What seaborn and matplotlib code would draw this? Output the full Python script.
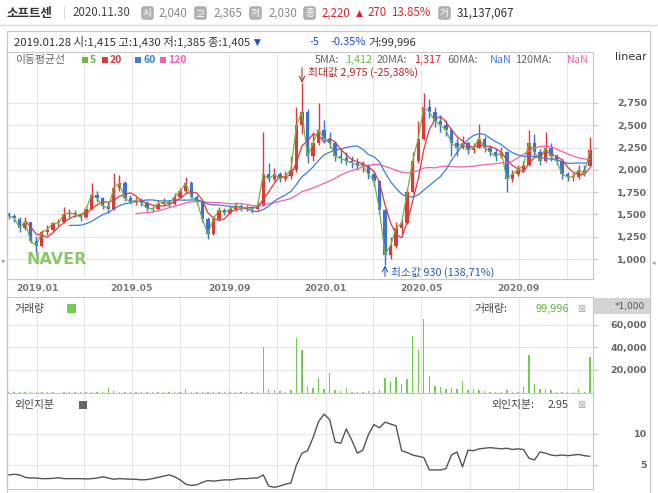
import numpy as np
import pandas as pd
import matplotlib
matplotlib.use('Agg')
import matplotlib.pyplot as plt
import matplotlib.dates as mdates
from matplotlib.patches import Rectangle
from matplotlib.lines import Line2D
import seaborn as sns

sns.set_style('white')
plt.rcParams['font.family'] = ['Noto Sans CJK KR', 'DejaVu Sans']
plt.rcParams['axes.unicode_minus'] = False

W, H = 658, 493

# weekly candles, 2018-11-26 .. 2020-11-30
open_ = [1500, 1480, 1450, 1350, 1410, 1200, 1150, 1300, 1330, 1400,
         1410, 1500, 1520, 1500, 1470, 1560, 1720, 1680, 1600, 1560,
         1800, 1850, 1680, 1640, 1660, 1630, 1570, 1560, 1620, 1640,
         1620, 1700, 1760, 1850, 1700, 1650, 1450, 1280, 1450, 1550,
         1520, 1560, 1600, 1570, 1580, 1560, 1600, 1950, 1900, 1950,
         1900, 1930, 2000, 2500, 2650, 2150, 2300, 2450, 2350, 2300,
         2150, 2130, 2100, 2080, 2050, 2050, 1950, 1880, 1550, 1050,
         1150, 1350, 1400, 1750, 2100, 2350, 2700, 2650, 2550, 2500,
         2450, 2300, 2250, 2300, 2220, 2250, 2350, 2250, 2200, 2150,
         2200, 1900, 1950, 2000, 2050, 2300, 2200, 2100, 2250, 2150,
         2100, 1950, 1920, 1920, 2000, 2040]
high = [1530, 1510, 1470, 1470, 1420, 1260, 1330, 1380, 1420, 1450,
        1580, 1560, 1550, 1520, 1600, 1850, 1760, 1700, 1640, 1960,
        1940, 1870, 1720, 1700, 1680, 1650, 1600, 1660, 1680, 1660,
        1740, 1800, 1920, 1870, 1720, 1660, 1470, 1480, 1580, 1570,
        1600, 1640, 1620, 1610, 1600, 1650, 2420, 2080, 2020, 1980,
        1990, 2150, 2700, 2975, 2680, 2420, 2750, 2560, 2420, 2320,
        2250, 2200, 2150, 2130, 2100, 2070, 1990, 1890, 1560, 1250,
        1420, 1450, 1800, 2200, 2550, 2860, 2800, 2700, 2620, 2560,
        2470, 2360, 2380, 2320, 2300, 2520, 2380, 2280, 2230, 2260,
        2210, 2000, 2060, 2100, 2450, 2400, 2230, 2420, 2300, 2180,
        2120, 1980, 1960, 2060, 2050, 2365]
low = [1450, 1420, 1300, 1330, 1180, 1050, 1140, 1270, 1310, 1370,
       1400, 1470, 1470, 1430, 1460, 1550, 1640, 1560, 1520, 1550,
       1760, 1650, 1620, 1610, 1590, 1540, 1530, 1550, 1600, 1580,
       1610, 1690, 1740, 1680, 1620, 1420, 1230, 1270, 1440, 1490,
       1500, 1540, 1540, 1540, 1520, 1550, 1590, 1860, 1880, 1860,
       1870, 1900, 1980, 2400, 2080, 2100, 2280, 2300, 2250, 2100,
       2080, 2050, 2020, 2000, 1980, 1900, 1820, 1500, 930, 1000,
       1120, 1280, 1390, 1740, 2080, 2330, 2580, 2480, 2430, 2380,
       2150, 2160, 2230, 2180, 2190, 2240, 2200, 2150, 2100, 2130,
       1750, 1860, 1930, 1980, 2040, 2150, 2050, 2090, 2100, 2050,
       1900, 1880, 1880, 1900, 1930, 2030]
close = [1480, 1460, 1350, 1420, 1200, 1150, 1300, 1330, 1400, 1405,
         1500, 1520, 1500, 1470, 1560, 1720, 1680, 1600, 1560, 1800,
         1850, 1680, 1640, 1660, 1630, 1570, 1560, 1620, 1640, 1620,
         1700, 1760, 1850, 1700, 1650, 1450, 1280, 1450, 1550, 1520,
         1560, 1600, 1570, 1580, 1560, 1600, 1950, 1900, 1950, 1900,
         1930, 2000, 2500, 2650, 2150, 2300, 2450, 2350, 2300, 2150,
         2130, 2100, 2080, 2050, 2050, 1950, 1880, 1550, 1050, 1150,
         1350, 1400, 1750, 2100, 2350, 2700, 2650, 2550, 2500, 2450,
         2300, 2250, 2300, 2220, 2250, 2350, 2250, 2200, 2150, 2200,
         1900, 1950, 2000, 2050, 2300, 2200, 2100, 2250, 2150, 2100,
         1950, 1920, 1920, 2000, 1950, 2220]
# volume, *1,000 shares
vol_k = [600, 700, 900, 800, 1000, 900, 700, 600, 500, 100,
         800, 700, 600, 500, 700, 900, 700, 600, 4500, 1200,
         900, 600, 500, 500, 400, 500, 500, 600, 700, 800,
         900, 700, 3500, 900, 800, 700, 600, 500, 400, 500,
         500, 400, 500, 400, 500, 600, 40000, 3000, 2000, 1500,
         1000, 2500, 48000, 38000, 6000, 4000, 13000, 3000, 17000, 2000,
         1500, 4000, 1000, 1000, 800, 1200, 1000, 2000, 13000, 9000,
         14000, 8000, 12000, 50000, 38000, 65000, 15000, 6000, 5000, 3000,
         4000, 3000, 10000, 2000, 3000, 2000, 1500, 1000, 1000, 800,
         2000, 1000, 800, 5000, 33000, 8000, 3000, 3000, 2000, 1000,
         800, 700, 800, 3000, 1000, 31000]
# foreign ownership, %
frgn = [3.4, 3.5, 3.4, 3.0, 2.9, 2.9, 2.8, 2.8, 2.85, 2.95,
        2.8, 2.8, 2.8, 2.8, 2.75, 2.8, 2.9, 3.1, 2.9, 2.7,
        2.8, 2.75, 2.7, 2.7, 2.6, 2.65, 2.8, 3.0, 3.2, 3.4,
        3.1, 2.6, 1.9, 1.7, 1.8, 2.2, 2.5, 2.4, 2.5, 2.6,
        2.6, 2.7, 2.8, 2.8, 2.9, 2.9, 3.4, 1.6, 1.4, 1.6,
        1.9, 2.1, 5.0, 6.9, 7.3, 9.4, 12.0, 13.2, 12.3, 8.7,
        8.5, 10.8, 9.0, 6.9, 7.4, 9.9, 11.5, 11.0, 11.9, 11.6,
        11.3, 7.3, 7.0, 6.6, 6.4, 6.2, 4.2, 4.2, 4.2, 4.4,
        6.6, 7.1, 4.7, 7.4, 7.3, 7.6, 7.7, 7.8, 7.7, 7.6,
        7.7, 7.5, 7.6, 7.5, 6.1, 5.8, 7.1, 6.9, 6.6, 6.5,
        6.6, 6.5, 6.6, 6.7, 6.5, 6.4]

price_ticks = [1000, 1250, 1500, 1750, 2000, 2250, 2500, 2750]
vol_ticks = [20000, 40000, 60000]
frgn_ticks = [5, 10]

UP, DOWN = '#e2373a', '#3a70d8'
MA_COLORS = {'5': '#72b545', '20': '#e0393c', '60': '#3b7fdc', '120': '#f062b2'}
MA_WIN = {'5': 1, '20': 4, '60': 12, '120': 24}   # weeks
GRID, SPINE = '#e6e6e6', '#c8c8c8'

dates = pd.date_range('2018-11-26', periods=len(close), freq='7D')
df = pd.DataFrame({'x': mdates.date2num(dates), 'open': open_, 'high': high,
                   'low': low, 'close': close, 'vol': vol_k, 'frgn': frgn})
for k, w in MA_WIN.items():
    df['ma' + k] = df['close'].rolling(w).mean()

xlim = mdates.date2num([pd.Timestamp('2018-11-24'), pd.Timestamp('2020-12-04')])
grid_dates = pd.date_range('2019-01-01', '2020-11-01', freq='2MS')
grid_x = mdates.date2num(grid_dates)
grid_lbl = [d.strftime('%Y.%m') if d.month in (1, 5, 9) else '' for d in grid_dates]


def px(x0, y0, x1, y1):
    return [x0 / W, 1 - y1 / H, (x1 - x0) / W, (y1 - y0) / H]


def ftext(x, y, s, **kw):
    kw.setdefault('va', 'center')
    kw.setdefault('fontsize', 8)
    fig.text(x / W, 1 - y / H, s, **kw)


def frect(x0, y0, x1, y1, **kw):
    fig.add_artist(Rectangle((x0 / W, 1 - y1 / H), (x1 - x0) / W, (y1 - y0) / H,
                             transform=fig.transFigure, **kw))


def style_axis(ax, ticks, labels, ylim):
    ax.set_xlim(*xlim)
    ax.set_ylim(*ylim)
    ax.set_xlabel('')
    ax.set_ylabel('')
    ax.yaxis.tick_right()
    ax.set_yticks(ticks, labels=labels, fontsize=6.8, fontweight='bold', color='#666',
                  ha='right', family='DejaVu Sans')
    ax.tick_params(axis='y', length=3.6, width=0.8, color=SPINE, pad=35.3)
    ax.set_xticks(grid_x)
    ax.grid(True, color=GRID, lw=0.8)
    ax.set_axisbelow(True)
    for s in ax.spines.values():
        s.set_color(SPINE)
        s.set_linewidth(0.8)


fig = plt.figure(figsize=(W / 100, H / 100), dpi=100)
fig.patch.set_facecolor('white')

# ---- price panel
ax_p = fig.add_axes(px(7, 52, 593, 279))
up = df['close'] >= df['open']
cols = np.where(up, UP, DOWN)
ax_p.vlines(df['x'], df['low'], df['high'], colors=cols, lw=1.0, zorder=2)
body = np.maximum((df['close'] - df['open']).abs(), 12)
ax_p.bar(df['x'], body, bottom=np.minimum(df['open'], df['close']), width=4.3,
         color=cols, lw=0, zorder=2)
for k in ['120', '60', '20', '5']:
    sns.lineplot(data=df, x='x', y='ma' + k, ax=ax_p, color=MA_COLORS[k], lw=0.9,
                 legend=False, zorder=3)
style_axis(ax_p, price_ticks, [f'{v:,}' for v in price_ticks], (776, 3322))
ax_p.set_xticklabels(grid_lbl, fontsize=6.7, fontweight='bold', color='#777',
                     family='DejaVu Sans')
ax_p.tick_params(axis='x', length=0, pad=3.6)

i_max = int(np.argmax(high))
i_min = int(np.argmin(low))
ax_p.annotate('', xy=(df['x'][i_max], high[i_max]), xytext=(0, 11), textcoords='offset points',
              arrowprops=dict(arrowstyle='->', color='#c0302b', lw=0.8, shrinkA=0, shrinkB=0))
ax_p.annotate(f'최대값 {high[i_max]:,} (-25,38%)', xy=(df['x'][i_max], high[i_max]),
              xytext=(4.5, 7.2), textcoords='offset points', va='center', fontsize=7.8,
              color='#b3261e')
ax_p.annotate('', xy=(df['x'][i_min], low[i_min]), xytext=(0, -8), textcoords='offset points',
              arrowprops=dict(arrowstyle='->', color='#2a5db0', lw=0.8, shrinkA=0, shrinkB=0))
ax_p.annotate(f'최소값 {low[i_min]:,} (138,71%)', xy=(df['x'][i_min], low[i_min]),
              xytext=(4.5, -5), textcoords='offset points', va='center', fontsize=7.8,
              color='#2a5db0')

# ---- volume panel
ax_v = fig.add_axes(px(7, 297, 593, 393))
ax_v.bar(df['x'], df['vol'], width=1.8, color='#72cc52', lw=0)
style_axis(ax_v, vol_ticks, [f'{v:,}' for v in vol_ticks], (-300, 84300))
ax_v.tick_params(axis='x', length=0, labelbottom=False)

# ---- foreign ownership panel
ax_f = fig.add_axes(px(7, 393, 593, 489))
sns.lineplot(data=df, x='x', y='frgn', ax=ax_f, color='#555555', lw=1.0, legend=False)
style_axis(ax_f, frgn_ticks, [str(v) for v in frgn_ticks], (1.13, 16.6))
ax_f.tick_params(axis='x', length=0, labelbottom=False)

# ---- frame
frect(7, 31, 650, 496, fill=False, ec=SPINE, lw=0.9)
fig.add_artist(Line2D([0, 1], [1 - 25 / H] * 2, color='#d8d8d8', lw=1, transform=fig.transFigure))
frect(594, 298, 650, 314, fc='#d4d4d4', ec='none')
ftext(645, 306, '*1,000', ha='right', fontsize=6.5, color='#555', family='DejaVu Sans')
ftext(2, 261, '▸', fontsize=5, color='#999', family='DejaVu Sans')
ftext(652, 263, '◂', fontsize=5, color='#999', family='DejaVu Sans')

# ---- header
ftext(6, 13, '소프트센', fontsize=9, fontweight='bold', color='#333')
ftext(63, 13, '|', fontsize=8, color='#cccccc')
ftext(73, 13, '2020.11.30', fontsize=8.3, color='#444')
icon = dict(boxstyle='round,pad=0.12,rounding_size=0.2', fc='#b4b4b4', ec='#9a9a9a', lw=0.6)
for xx, ch in [(143, '시'), (196, '고'), (251, '저'), (305, '종'), (440, '거')]:
    ftext(xx, 13, ch, fontsize=7, color='white', bbox=icon)
for xx, s in [(159, '2,040'), (214, '2,365'), (269, '2,030')]:
    ftext(xx, 13, s, fontsize=8.3, color='#8a8a8a')
ftext(322, 13, '2,220', fontsize=8.3, color='#d8282c')
ftext(356, 13, '▲', fontsize=6.5, color='#d8282c', family='DejaVu Sans')
ftext(368, 13, '270', fontsize=8.3, color='#d8282c')
ftext(391, 13, '13.85%', fontsize=8.3, color='#d8282c')
ftext(457, 13, '31,137,067', fontsize=8.3, color='#333')

# ---- info row
ftext(14, 42, '2019.01.28 시:1,415 고:1,430 저:1,385 종:1,405', fontsize=8.2, color='#333')
ftext(254, 42, '▼', fontsize=6.5, color='#1f4fd1', family='DejaVu Sans')
ftext(309, 42, '-5', fontsize=8, color='#1f4fd1')
ftext(330, 42, '-0.35%', fontsize=8, color='#1f4fd1')
ftext(368, 42, '거:99,996', fontsize=8, color='#333')

# ---- MA legend row
ftext(15, 60, '이동평균선', fontsize=7.8, color='#666')
for xx, k in [(82, '5'), (102, '20'), (135, '60'), (160, '120')]:
    frect(xx, 57, xx + 6, 63, fc=MA_COLORS[k], ec='none')
    ftext(xx + 8, 60, k, fontsize=7.5, fontweight='bold', color=MA_COLORS[k])
for xx, s, c in [(315, '5MA:', '#666'), (345, '1,412', MA_COLORS['5']),
                 (377, '20MA:', '#666'), (414, '1,317', '#c8282c'),
                 (447, '60MA:', '#666'), (490, 'NaN', MA_COLORS['60']),
                 (515, '120MA:', '#666'), (567, 'NaN', MA_COLORS['120'])]:
    ftext(xx, 60, s, fontsize=7.8, color=c)
ftext(615, 57, 'linear', fontsize=8, color='#333', family='DejaVu Sans')
ftext(26, 260, 'NAVER', fontsize=11.5, fontweight='bold', color='#8cc66d', family='DejaVu Sans')

# ---- sub panel labels
ftext(14, 309, '거래량', fontsize=7.8, color='#444')
frect(67, 304, 76, 313, fc='#72cc52', ec='none')
ftext(474, 309, '거래량:', fontsize=7.8, color='#444')
ftext(569, 309, '99,996', ha='right', fontsize=7.8, color='#5cb531')
ftext(581, 309, '⊠', ha='center', fontsize=7, color='#aaa', family='DejaVu Sans')
ftext(14, 405, '외인지분', fontsize=7.8, color='#444')
frect(79, 401, 87, 409, fc='#666', ec='none')
ftext(491, 405, '외인지분:', fontsize=7.8, color='#444')
ftext(569, 405, '2.95', ha='right', fontsize=7.8, color='#444')
ftext(581, 405, '⊠', ha='center', fontsize=7, color='#aaa', family='DejaVu Sans')

fig.savefig('out.png', dpi=100)
